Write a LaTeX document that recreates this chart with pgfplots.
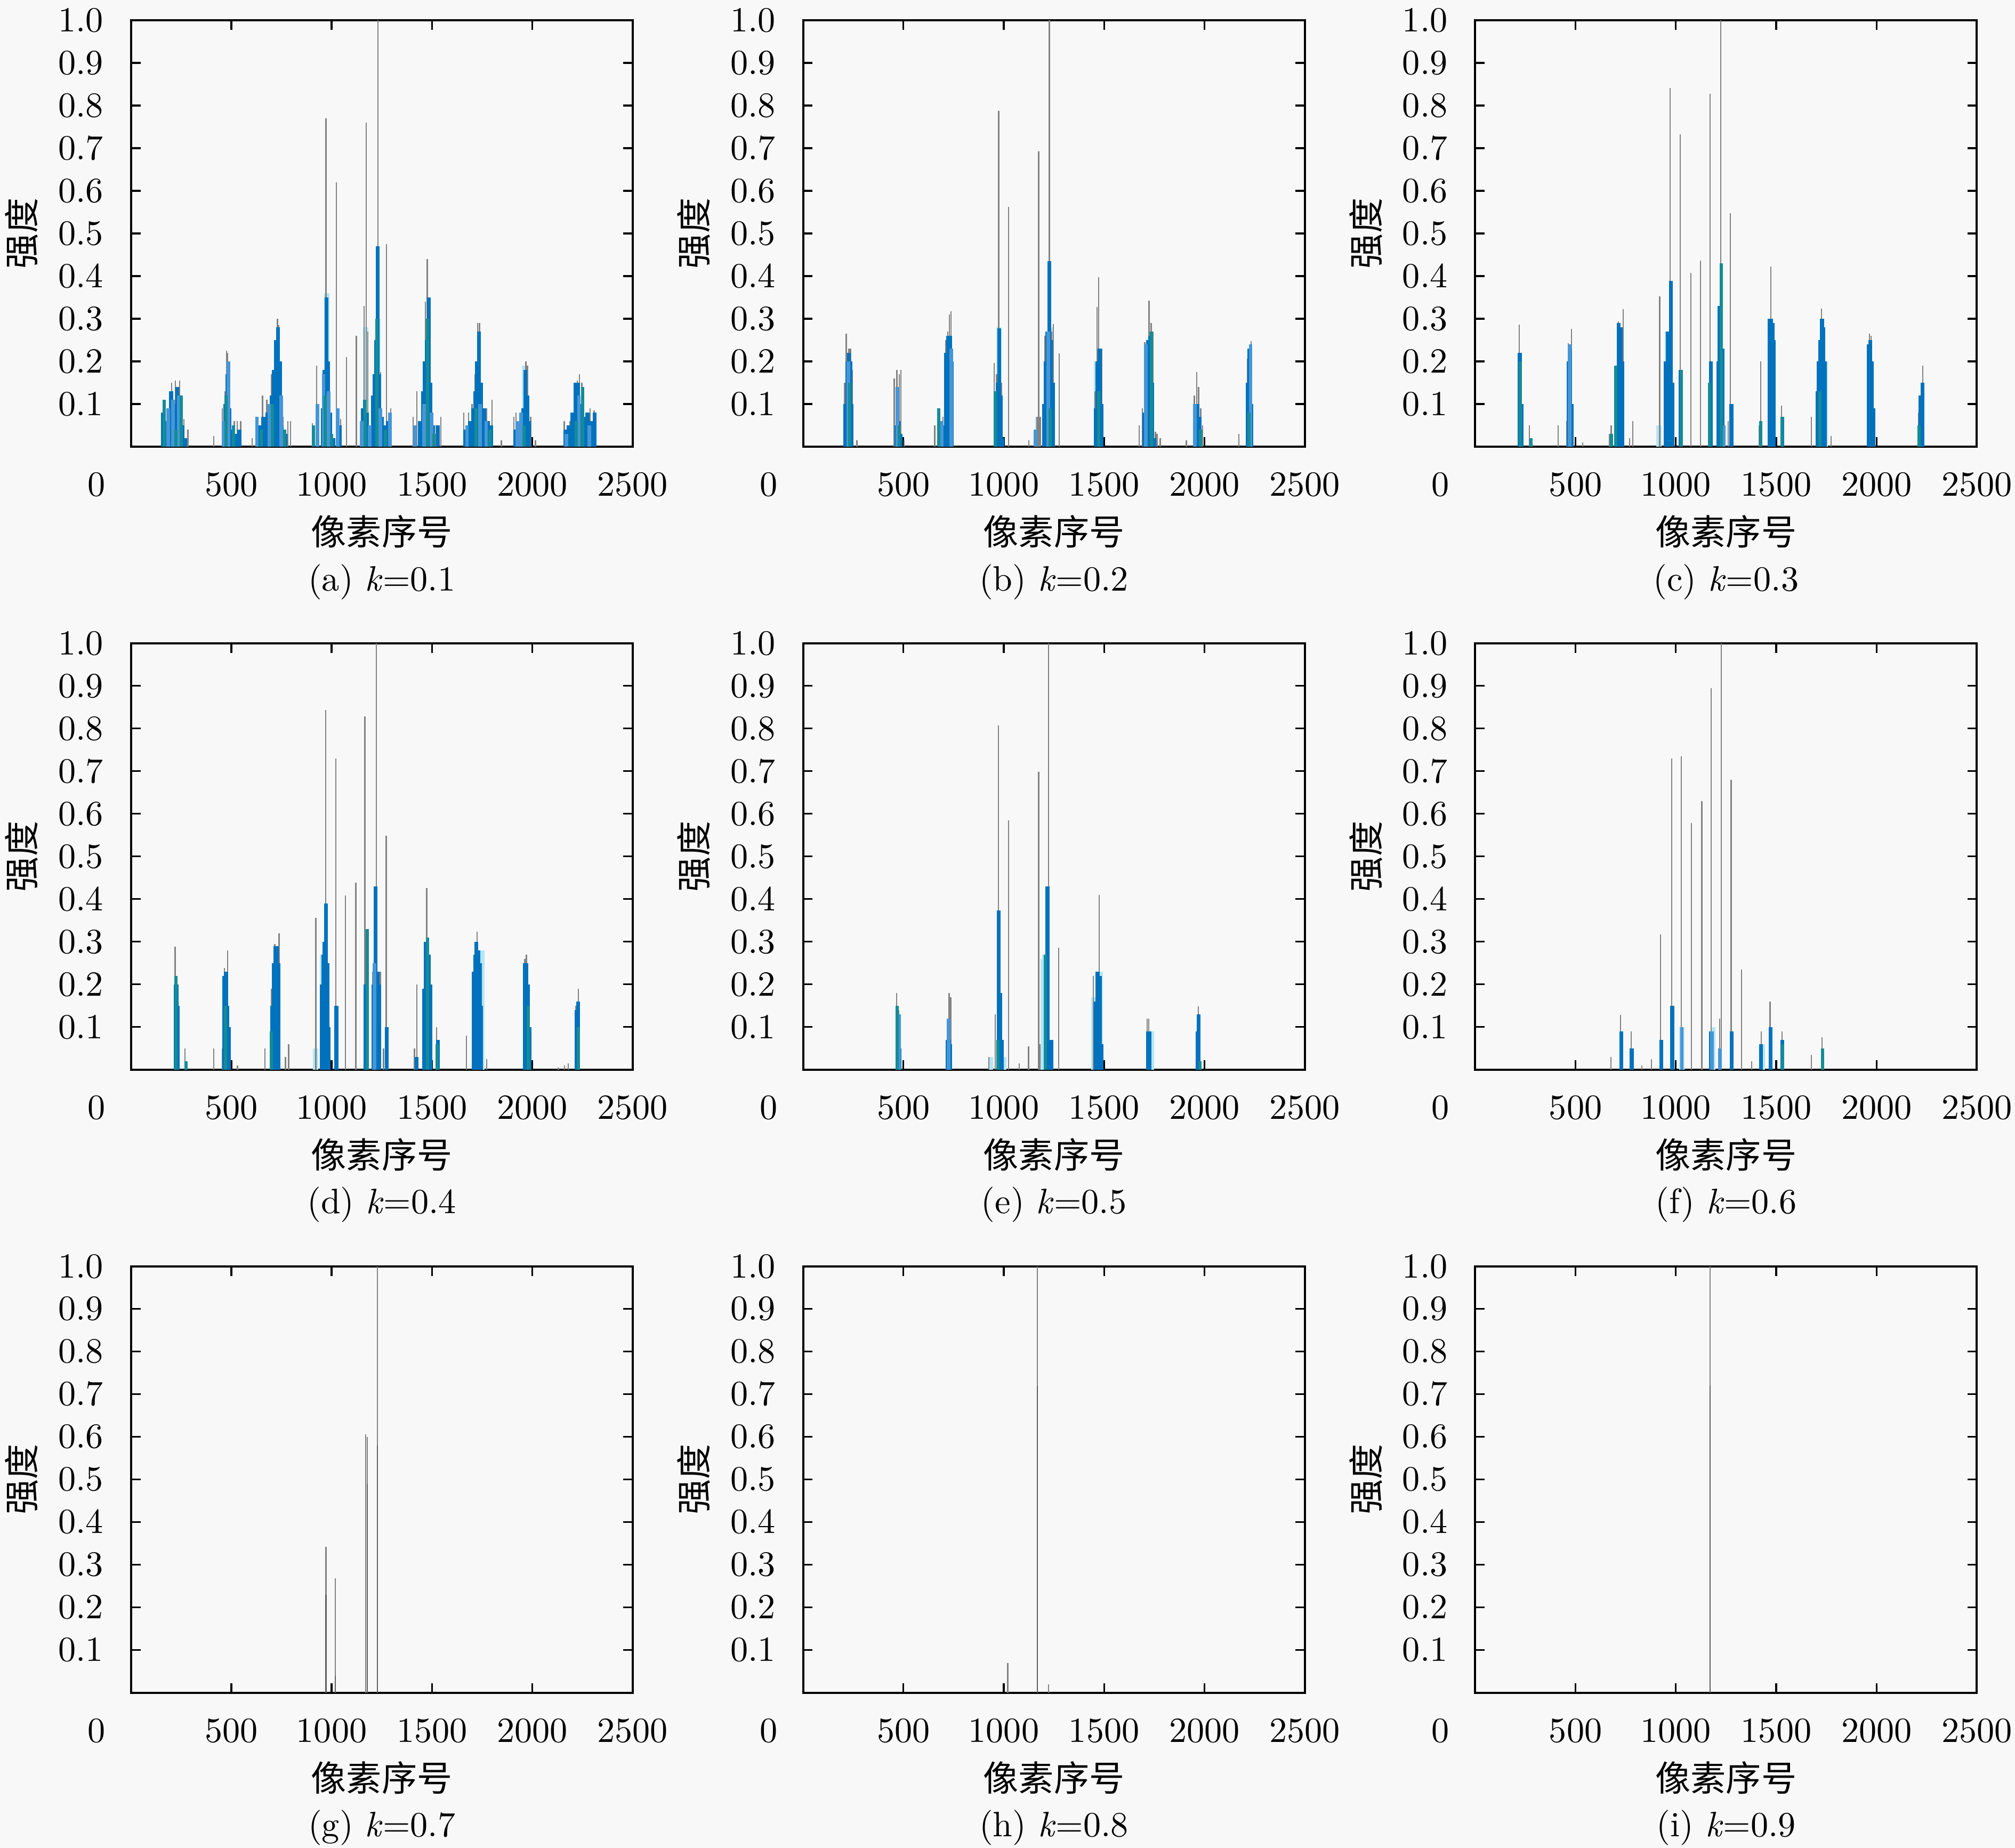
\documentclass[border=0pt]{standalone}
\usepackage{fontspec}
\usepackage{pgfplots}
\pgfplotsset{compat=1.18}
\usepgfplotslibrary{groupplots}
\usetikzlibrary{backgrounds}
\newfontfamily\cjk{Noto Sans CJK SC}
\definecolor{mblue}{RGB}{0,114,189}
\definecolor{lblue}{RGB}{70,150,215}
\definecolor{mteal}{RGB}{20,140,150}
\definecolor{pcyan}{RGB}{180,230,245}
\definecolor{sgrey}{RGB}{130,130,130}
\definecolor{dgrey}{RGB}{95,95,95}
\definecolor{bgc}{RGB}{248,248,248}
\pgfplotsset{
  G/.style={ycomb, no marks, draw=sgrey, line width=0.35pt},
  D/.style={ycomb, no marks, draw=dgrey, line width=0.35pt},
  B/.style={ycomb, no marks, draw=mblue, line width=1.1pt},
  L/.style={ycomb, no marks, draw=lblue, line width=1.0pt},
  T/.style={ycomb, no marks, draw=mteal, line width=0.9pt},
  C/.style={ycomb, no marks, draw=pcyan, line width=1.5pt},
  myax/.style={
    scale only axis, width=142.1pt, height=120.8pt,
    xmin=0, xmax=2500, ymin=0, ymax=1,
    scaled ticks=false,
    /pgf/number format/1000 sep={},
    xtick={500,1000,1500,2000,2500},
    extra x ticks={0},
    extra x tick style={xticklabel style={xshift=-9.8pt}},
    ytick={0.1,0.2,0.3,0.4,0.5,0.6,0.7,0.8,0.9,1.0},
    xticklabel style={yshift=-4pt},
    yticklabel style={xshift=-4.3pt,/pgf/number format/.cd,fixed,fixed zerofill,precision=1},
    tick align=inside, major tick length=2.7pt,
    every tick/.style={black, line width=0.5pt},
    axis line style={line width=0.6pt},
    xlabel={\cjk 像素序号}, ylabel={\cjk 强度},
    every axis x label/.style={at={(rel axis cs:0.5,0)}, anchor=center, yshift=-24.1pt},
    every axis y label/.style={at={(rel axis cs:0,0.5)}, xshift=-31pt, rotate=90, anchor=center},
    every axis title/.style={at={(rel axis cs:0.5,0)}, anchor=base, yshift=-40.8pt},
  }
}
\begin{document}
\begin{tikzpicture}
\begin{groupplot}[group style={group size=3 by 3, horizontal sep=48.3pt, vertical sep=55.7pt}, myax]
% (a)
\nextgroupplot[title={(a) \textit{k}=0.1}]
\addplot[C] coordinates {(975,0.36) (1170,0.28) (1230,0.3) (1470,0.2) (1732,0.14) (1962,0.19)};
\addplot[G] coordinates {(154,0.08) (166,0.11) (193,0.11) (203,0.15) (222,0.155) (242,0.155) (263,0.065) (284,0.04)
 (412,0.025) (455,0.09) (468,0.13) (477,0.225) (482,0.22) (515,0.06) (530,0.06) (547,0.06)
 (604,0.02) (656,0.12) (677,0.11) (701,0.17) (718,0.24) (730,0.30) (737,0.285) (758,0.07) (782,0.06) (795,0.06)
 (904,0.055) (925,0.19) (958,0.18) (972,0.77) (989,0.19) (1024,0.62) (1045,0.065) (1075,0.21)
 (1123,0.26) (1161,0.33) (1172,0.76) (1180,0.27) (1213,0.17) (1230,1.0) (1245,0.175) (1274,0.475) (1286,0.08) (1294,0.09)
 (1407,0.07) (1424,0.13) (1448,0.07) (1467,0.34) (1477,0.44) (1489,0.18) (1521,0.05) (1545,0.07)
 (1659,0.08) (1683,0.08) (1700,0.1) (1716,0.17) (1727,0.29) (1737,0.29) (1748,0.1) (1773,0.09) (1800,0.11) (1846,0.015)
 (1908,0.07) (1919,0.08) (1951,0.09) (1968,0.2) (1976,0.19) (1992,0.07) (2016,0.015)
 (2159,0.06) (2187,0.06) (2208,0.15) (2224,0.155) (2235,0.17) (2247,0.15) (2268,0.08) (2289,0.09) (2308,0.085)};
\addplot[B] coordinates {(160,0.08) (175,0.06) (200,0.13) (215,0.10) (230,0.14) (245,0.10) (258,0.05) (270,0.02)
 (470,0.10) (480,0.17) (490,0.09) (500,0.04) (520,0.03) (540,0.04)
 (640,0.05) (660,0.07) (680,0.08) (700,0.12) (712,0.18) (722,0.25) (732,0.28) (742,0.2) (752,0.05) (770,0.03)
 (955,0.09) (965,0.18) (975,0.35) (983,0.2) (993,0.08) (1010,0.02) (1040,0.05)
 (1155,0.09) (1165,0.11) (1175,0.08) (1205,0.12) (1215,0.17) (1222,0.25) (1230,0.47) (1238,0.17) (1250,0.07) (1262,0.05) (1280,0.06)
 (1440,0.06) (1455,0.13) (1465,0.2) (1475,0.25) (1485,0.35) (1493,0.15) (1505,0.05) (1530,0.05)
 (1665,0.04) (1690,0.06) (1705,0.09) (1715,0.13) (1725,0.2) (1735,0.27) (1745,0.15) (1760,0.09) (1780,0.06) (1795,0.05)
 (1915,0.04) (1935,0.05) (1955,0.09) (1965,0.18) (1975,0.12) (1985,0.06)
 (2165,0.04) (2180,0.05) (2200,0.08) (2215,0.15) (2228,0.15) (2240,0.1) (2255,0.07) (2275,0.08) (2295,0.06) (2310,0.08)};
\addplot[L] coordinates {(185,0.09) (210,0.11) (238,0.12) (462,0.06) (485,0.2) (628,0.07) (690,0.1) (748,0.12)
 (930,0.1) (960,0.17) (985,0.13) (1030,0.09) (1150,0.06) (1190,0.05) (1243,0.09) (1290,0.08)
 (1415,0.05) (1460,0.1) (1498,0.08) (1675,0.05) (1740,0.1) (1770,0.06) (1925,0.06) (1945,0.08)
 (2170,0.03) (2232,0.12) (2285,0.05)};
\addplot[T] coordinates {(165,0.11) (225,0.04) (250,0.12) (475,0.12) (510,0.05) (650,0.04) (706,0.1) (765,0.04)
 (910,0.05) (968,0.12) (1000,0.03) (1168,0.11) (1226,0.3) (1268,0.04) (1478,0.3) (1510,0.03)
 (1720,0.09) (1790,0.04) (1960,0.05) (2220,0.06) (2250,0.14)};
% (b)
\nextgroupplot[title={(b) \textit{k}=0.2}]
\addplot[C] coordinates {(975,0.28) (1170,0.07) (1230,0.28) (1463,0.2)};
\addplot[G] coordinates {(207,0.15) (215,0.265) (228,0.23) (236,0.23) (244,0.18) (268,0.015)
 (454,0.16) (467,0.18) (479,0.17) (487,0.18) (503,0.015)
 (656,0.05) (678,0.09) (697,0.07) (710,0.25) (721,0.27) (729,0.31) (737,0.317) (745,0.23)
 (952,0.196) (964,0.17) (975,0.787) (988,0.15) (1024,0.562)
 (1125,0.015) (1153,0.04) (1166,0.07) (1174,0.693) (1182,0.07) (1206,0.26) (1227,1.0) (1239,0.27) (1247,0.287) (1276,0.219)
 (1454,0.13) (1465,0.327) (1473,0.397) (1481,0.23) (1489,0.23)
 (1675,0.05) (1691,0.09) (1703,0.245) (1712,0.25) (1724,0.343) (1735,0.29) (1743,0.27) (1756,0.035) (1764,0.03) (1780,0.02)
 (1910,0.015) (1950,0.12) (1961,0.175) (1971,0.14) (1982,0.09) (1991,0.05)
 (2172,0.03) (2214,0.206) (2225,0.238) (2233,0.248) (2241,0.1)};
\addplot[B] coordinates {(210,0.1) (220,0.2) (228,0.22) (236,0.2) (242,0.1)
 (465,0.05) (475,0.06) (485,0.03)
 (682,0.04) (700,0.05) (712,0.22) (722,0.26) (732,0.26) (742,0.2)
 (960,0.1) (970,0.15) (977,0.278) (984,0.12) (992,0.02)
 (1200,0.1) (1210,0.2) (1218,0.27) (1227,0.435) (1236,0.25) (1245,0.15)
 (1458,0.09) (1468,0.2) (1478,0.23) (1486,0.1)
 (1700,0.08) (1710,0.22) (1720,0.25) (1730,0.26) (1740,0.15) (1750,0.02)
 (1955,0.08) (1965,0.1) (1975,0.07)
 (2215,0.15) (2225,0.23) (2235,0.1)};
\addplot[L] coordinates {(225,0.2) (470,0.14) (690,0.06) (738,0.23) (1158,0.04) (1222,0.27) (1708,0.24) (1952,0.1) (2230,0.24)};
\addplot[T] coordinates {(232,0.15) (478,0.05) (676,0.09) (958,0.13) (1232,0.09) (1473,0.13) (1735,0.27) (1980,0.04) (2222,0.08)};
% (c)
\nextgroupplot[title={(c) \textit{k}=0.3}]
\addplot[C] coordinates {(916,0.05) (958,0.27) (1470,0.3) (1745,0.2)};
\addplot[G] coordinates {(220,0.286) (228,0.15) (236,0.05) (269,0.05) (414,0.05)
 (455,0.06) (463,0.242) (479,0.276) (536,0.01)
 (670,0.03) (678,0.05) (702,0.19) (714,0.294) (738,0.322) (770,0.02) (786,0.06)
 (919,0.353) (956,0.268) (972,0.841) (1021,0.732) (1074,0.407)
 (1123,0.436) (1171,0.827) (1210,0.23) (1223,1.0) (1236,0.23) (1260,0.06) (1272,0.547)
 (1414,0.05) (1422,0.2) (1474,0.422) (1490,0.26) (1526,0.096)
 (1676,0.07) (1705,0.17) (1725,0.324) (1773,0.025)
 (1959,0.24) (1964,0.265) (1972,0.26) (1979,0.2)
 (2210,0.08) (2223,0.147) (2231,0.19)};
\addplot[B] coordinates {(222,0.22) (230,0.1)
 (465,0.2) (472,0.23) (480,0.1)
 (705,0.15) (715,0.29) (725,0.28) (733,0.2)
 (950,0.2) (960,0.27) (968,0.25) (976,0.389) (984,0.15) (1024,0.18)
 (1175,0.2) (1212,0.2) (1218,0.33) (1232,0.23) (1277,0.1)
 (1466,0.3) (1474,0.3) (1482,0.29) (1488,0.25) (1531,0.07)
 (1705,0.13) (1712,0.2) (1720,0.25) (1728,0.3) (1735,0.28) (1742,0.2)
 (1960,0.24) (1968,0.25) (1976,0.2) (1984,0.09)
 (2220,0.12) (2230,0.15)};
\addplot[L] coordinates {(470,0.24) (1240,0.05)};
\addplot[T] coordinates {(225,0.2) (277,0.02) (680,0.03) (700,0.19) (1026,0.18) (1168,0.15) (1226,0.43) (1422,0.06) (1528,0.07) (1718,0.13) (2212,0.05)};
% (d)
\nextgroupplot[title={(d) \textit{k}=0.4}]
\addplot[C] coordinates {(920,0.05) (955,0.27) (1750,0.28)};
\addplot[G] coordinates {(220,0.289) (269,0.05) (413,0.05)
 (455,0.05) (466,0.239) (482,0.28) (531,0.01)
 (668,0.05) (701,0.19) (717,0.295) (738,0.32) (770,0.03) (786,0.06)
 (921,0.356) (971,0.843) (1021,0.73) (1069,0.408)
 (1121,0.439) (1166,0.828) (1205,0.23) (1223,1.0) (1243,0.23) (1259,0.05) (1272,0.549)
 (1413,0.05) (1424,0.2) (1474,0.426) (1523,0.1)
 (1671,0.08) (1725,0.324) (1773,0.025)
 (1963,0.26) (1971,0.27)
 (2130,0.005) (2160,0.01) (2180,0.015) (2218,0.15) (2230,0.19)};
\addplot[B] coordinates {(222,0.2) (228,0.2) (232,0.15)
 (464,0.22) (474,0.23) (480,0.15) (488,0.1)
 (705,0.15) (712,0.25) (720,0.29) (728,0.29) (735,0.25)
 (950,0.2) (958,0.27) (965,0.3) (972,0.39) (980,0.25) (986,0.1) (1024,0.15)
 (1170,0.2) (1208,0.2) (1218,0.43) (1228,0.23) (1238,0.2) (1275,0.1)
 (1424,0.03) (1461,0.19) (1468,0.3) (1476,0.3) (1483,0.27) (1492,0.2) (1530,0.07)
 (1707,0.23) (1715,0.27) (1722,0.3) (1730,0.28) (1738,0.25) (1744,0.15)
 (1962,0.25) (1970,0.25) (1978,0.2) (1986,0.1)
 (2222,0.14) (2228,0.16)};
\addplot[L] coordinates {(1213,0.25)};
\addplot[T] coordinates {(225,0.22) (275,0.02) (470,0.15) (700,0.09) (1178,0.33) (1478,0.31) (1526,0.06) (1980,0.15) (2230,0.1)};
% (e)
\nextgroupplot[title={(e) \textit{k}=0.5}]
\addplot[C] coordinates {(935,0.03) (1000,0.03) (1197,0.26) (1205,0.27) (1450,0.17) (1480,0.23) (1735,0.09)};
\addplot[G] coordinates {(466,0.18) (477,0.14) (728,0.18) (736,0.17)
 (925,0.03) (957,0.13) (973,0.807) (1024,0.585) (1077,0.015)
 (1124,0.055) (1174,0.699) (1180,0.06) (1224,1.0) (1273,0.286)
 (1447,0.22) (1475,0.41) (1714,0.12) (1722,0.12) (1970,0.148)};
\addplot[B] coordinates {(472,0.1) (480,0.05) (720,0.07) (728,0.07) (734,0.06)
 (975,0.373) (983,0.18) (990,0.07)
 (1212,0.05) (1218,0.43) (1237,0.07)
 (1459,0.16) (1468,0.23) (1478,0.22) (1486,0.06)
 (1718,0.09) (1726,0.09) (1965,0.09) (1972,0.13)};
\addplot[L] coordinates {(478,0.13) (725,0.12)};
\addplot[T] coordinates {(469,0.15) (970,0.07) (1208,0.27) (1978,0.02)};
% (f)
\nextgroupplot[title={(f) \textit{k}=0.6}]
\addplot[C] coordinates {(1030,0.1) (1185,0.1) (1430,0.06)};
\addplot[G] coordinates {(676,0.03) (725,0.129) (777,0.09) (830,0.01) (879,0.025) (924,0.317) (979,0.73) (1027,0.735)
 (1078,0.578) (1129,0.63) (1175,0.895) (1218,0.12) (1226,1.0) (1275,0.68) (1328,0.235) (1377,0.02)
 (1425,0.09) (1469,0.16) (1529,0.09) (1676,0.035) (1728,0.076)};
\addplot[B] coordinates {(728,0.09) (780,0.05) (927,0.07) (982,0.15) (1175,0.09) (1278,0.09) (1425,0.06) (1472,0.1) (1531,0.07)};
\addplot[L] coordinates {(1030,0.1) (1180,0.09) (1220,0.05)};
\addplot[T] coordinates {(1531,0.06) (1730,0.05)};
% (g)
\nextgroupplot[title={(g) \textit{k}=0.7}]
\addplot[G] coordinates {(972,0.342) (1019,0.268) (1170,0.606) (1178,0.6) (1228,1.0)};
\addplot[D] coordinates {(972,0.23) (1019,0.04) (1178,0.49) (1228,0.58)};
% (h)
\nextgroupplot[title={(h) \textit{k}=0.8}]
\addplot[G] coordinates {(1020,0.07) (1167,1.0) (1224,0.02)};
\addplot[D] coordinates {(1167,0.72)};
% (i)
\nextgroupplot[title={(i) \textit{k}=0.9}]
\addplot[G] coordinates {(1170,1.0)};
\addplot[D] coordinates {(1170,0.72)};
\end{groupplot}
\pgfresetboundingbox
\path (group c1r1.north west) ++(-37.1pt,5.74pt) coordinate (BB1) rectangle ++(570.8pt,-523.5pt) coordinate (BB2);
\begin{scope}[on background layer]
\fill[bgc] (BB1) rectangle (BB2);
\end{scope}
\end{tikzpicture}
\end{document}
